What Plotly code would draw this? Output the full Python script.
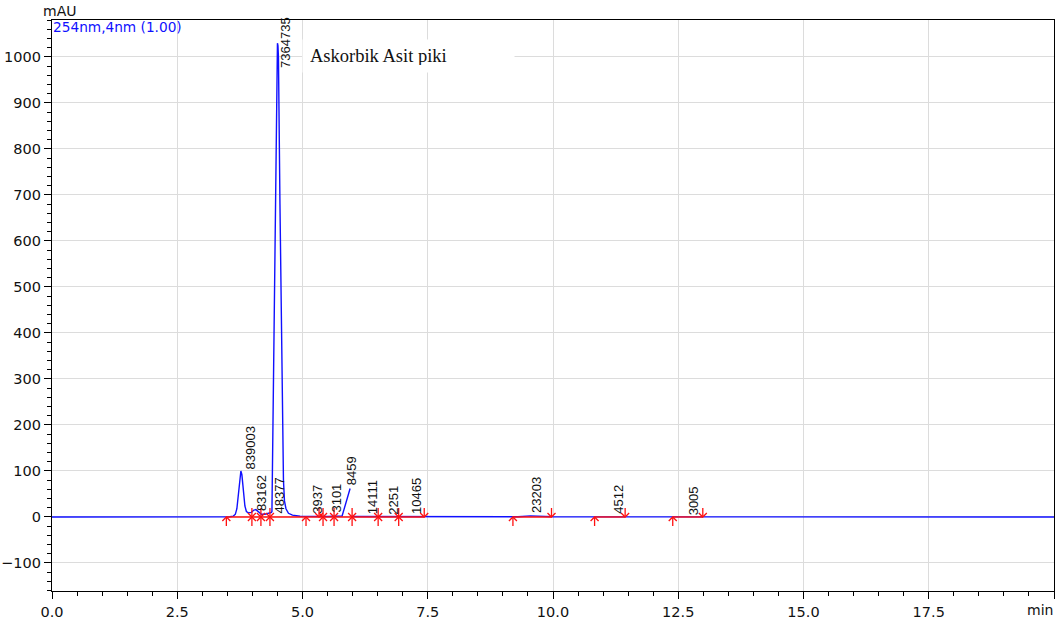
import plotly.graph_objects as go

# Chromatogram at 254 nm: retention time (min) vs absorbance (mAU)
time_min = [0.00, 3.45, 3.55, 3.62, 3.66, 3.69, 3.71, 3.73, 3.75, 3.77, 3.79, 3.81,
            3.83, 3.85, 3.88, 3.92, 3.98, 4.03, 4.07, 4.12, 4.18, 4.25, 4.32, 4.38,
            4.39, 4.41, 4.45, 4.49, 4.50, 4.51, 4.52, 4.55, 4.59, 4.61, 4.62, 4.64,
            4.67, 4.72, 4.80, 4.95, 5.20, 5.50, 5.79, 5.95, None, 5.97, 6.50, 7.40,
            7.60, 9.30, 9.55, 9.75, 10.00, 20.00]
signal_mau = [0.0, 0.0, 0.5, 2, 6, 18, 38, 65, 90, 100, 92, 68,
              42, 24, 12, 9, 10, 15, 16, 11, 6, 6, 8, 10,
              12, 200, 620, 1010, 1030, 1025, 1000, 680, 300, 140, 80, 35,
              18, 8, 4, 1.5, 1, 1, 2, 62, None, 1, 1, 1,
              0.5, 0.5, 2.5, 1.5, 0.5, 0.0]

# Integration events (min)
peak_starts = [3.48, 5.07, 9.20, 10.83, 12.39]
peak_ends = [5.33, 7.43, 9.97, 11.44, 12.99]
peak_joins = [3.99, 4.17, 4.35, 5.41, 5.63, 5.99, 6.51, 6.92]
baseline_from = [3.48, 9.20, 10.83, 12.39]
baseline_to = [7.43, 9.97, 11.44, 12.99]

# Peak areas with label positions
peak_area = ["839003", "83162", "48377", "7364735", "3937", "3101", "8459",
             "14111", "2251", "10465", "23203", "4512", "3005"]
peak_rt = [3.96, 4.18, 4.54, 4.67, 5.31, 5.67, 5.97, 6.39, 6.80, 7.26, 9.66, 11.32, 12.81]
peak_top = [101, 11.5, 6.5, 975, 4, 6.5, 66, 4, 3, 4, 6.5, 4, 2]

x_ticks = [0, 2.5, 5, 7.5, 10, 12.5, 15, 17.5, 20]
x_tick_text = ["0.0", "2.5", "5.0", "7.5", "10.0", "12.5", "15.0", "17.5", ""]
y_ticks = [-100, 0, 100, 200, 300, 400, 500, 600, 700, 800, 900, 1000]

X_RANGE = [0, 20]
Y_RANGE = [-160.9, 1080.4]
W, H = 1061, 619
M = dict(l=52, r=7, t=20, b=28)
px_x = (X_RANGE[1] - X_RANGE[0]) / (W - M["l"] - M["r"])
px_y = (Y_RANGE[1] - Y_RANGE[0]) / (H - M["t"] - M["b"])

RED = "#ff1010"
BLUE = "#1010ff"


def arrow_path(xs, up=True, down=False):
    """Arrow glyphs at the baseline: shaft length 9 px, head 4 px."""
    shaft = 9 * px_y
    head_w = 4 * px_x
    head_h = 4 * px_y
    px, py = [], []
    for x in xs:
        if up:  # head at baseline, shaft hanging below
            px += [x, x, None, x - head_w, x, x + head_w, None]
            py += [0, -shaft, None, -head_h, 0, -head_h, None]
        if down:  # head at baseline, shaft standing above
            px += [x, x, None, x - head_w, x, x + head_w, None]
            py += [0, shaft, None, head_h, 0, head_h, None]
    return px, py


fig = go.Figure()

fig.add_trace(go.Scatter(x=time_min, y=signal_mau, mode="lines",
                         line=dict(color=BLUE, width=1.4), connectgaps=False,
                         hoverinfo="skip"))

# Integration baselines
bx, by = [], []
for a, b in zip(baseline_from, baseline_to):
    bx += [a, b, None]
    by += [0, 0, None]
fig.add_trace(go.Scatter(x=bx, y=by, mode="lines",
                         line=dict(color=RED, width=1.4), hoverinfo="skip"))

for xs, up, down in [(peak_starts, True, False), (peak_ends, False, True),
                     (peak_joins, True, True)]:
    ax, ay = arrow_path(xs, up, down)
    fig.add_trace(go.Scatter(x=ax, y=ay, mode="lines",
                             line=dict(color=RED, width=1.3), hoverinfo="skip"))

# Area labels above peaks
for txt, rt, top in zip(peak_area, peak_rt, peak_top):
    fig.add_annotation(x=rt, y=top, text=txt, textangle=-90, showarrow=False,
                       xanchor="center", yanchor="bottom", borderpad=0,
                       font=dict(family="Liberation Sans, Arial", size=13, color="#111111"))

fig.add_annotation(x=4.98, y=1002, xref="x", yref="y", text="Askorbik Asit piki",
                   showarrow=False, xanchor="left", yanchor="middle", align="left",
                   bgcolor="white", borderpad=7, width=197, height=18,
                   font=dict(family="Liberation Serif, Times New Roman", size=18.5,
                             color="#111111"))

fig.add_annotation(x=0, y=1, xref="paper", yref="paper", text="254nm,4nm (1.00)",
                   showarrow=False, xanchor="left", yanchor="top", borderpad=0,
                   yshift=2,
                   font=dict(family="DejaVu Sans", size=13.7, color=BLUE))

fig.add_annotation(x=0, y=1, xref="paper", yref="paper", text="mAU",
                   showarrow=False, xanchor="left", yanchor="bottom", borderpad=0,
                   xshift=-10, yshift=0,
                   font=dict(family="DejaVu Sans", size=14, color="#111111"))

fig.add_annotation(x=20, y=0, xref="x", yref="paper", text="min",
                   showarrow=False, xanchor="right", yanchor="top", borderpad=0,
                   yshift=-10,
                   font=dict(family="DejaVu Sans", size=14, color="#111111"))

axis_common = dict(showline=True, linecolor="black", linewidth=1.4, mirror=True,
                   ticks="outside", ticklen=7, tickwidth=1.2, tickcolor="black",
                   showgrid=True, gridcolor="#dcdcdc", gridwidth=1, zeroline=False,
                   automargin=False,
                   tickfont=dict(family="DejaVu Sans", size=14.5, color="#111111"))

fig.update_xaxes(range=X_RANGE, tickmode="array", tickvals=x_ticks,
                 ticktext=x_tick_text,
                 minor=dict(dtick=0.5, ticklen=4, tickwidth=1.2, tickcolor="black",
                            ticks="outside", showgrid=False),
                 **axis_common)
fig.update_yaxes(range=Y_RANGE, tickmode="array", tickvals=y_ticks,
                 minor=dict(dtick=20, tick0=0, ticklen=4, tickwidth=1.2,
                            tickcolor="black", ticks="outside", showgrid=False),
                 **axis_common)

fig.update_layout(width=W, height=H, margin=M, showlegend=False,
                  plot_bgcolor="white", paper_bgcolor="white")

fig.write_html("out.html")
